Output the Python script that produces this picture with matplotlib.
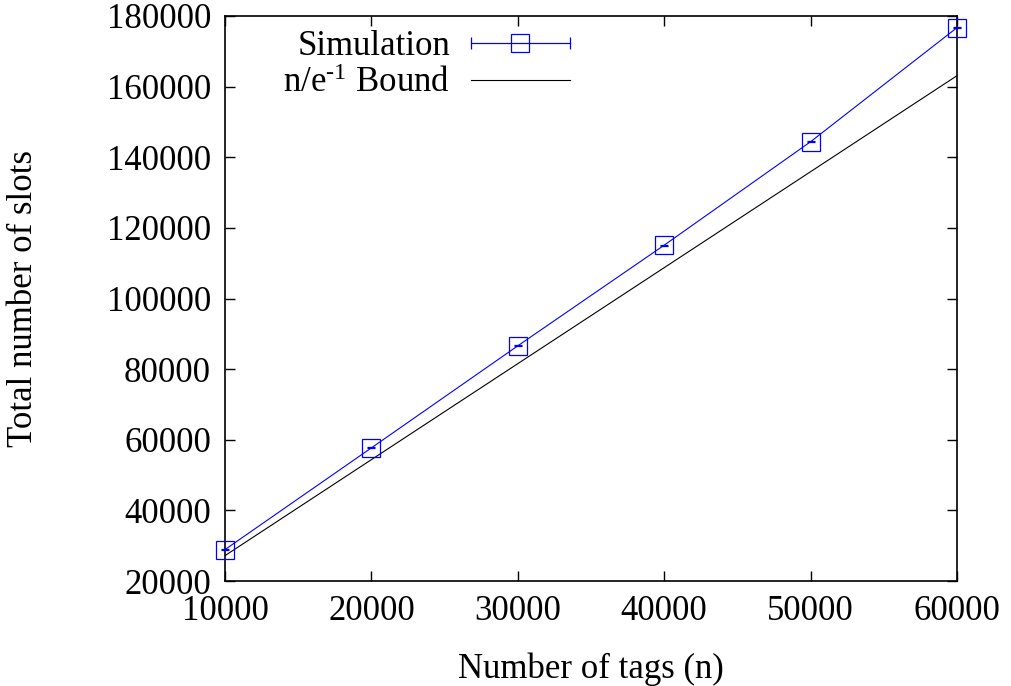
import matplotlib
matplotlib.use("Agg")
import matplotlib.pyplot as plt
import numpy as np
from matplotlib.legend_handler import HandlerErrorbar

plt.rcParams['font.family'] = ['Liberation Serif', 'DejaVu Serif']
plt.rcParams['mathtext.fontset'] = 'custom'
plt.rcParams['mathtext.rm'] = 'Liberation Serif'
plt.rcParams['mathtext.default'] = 'regular'

tags = [10000, 20000, 30000, 40000, 50000, 60000]
sim_slots = [28900, 57700, 86600, 115100, 144400, 176700]
sim_err = [150, 150, 150, 150, 150, 150]
bound_x = [10000, 60000]
bound_y = [10000 * np.e, 60000 * np.e]

fig = plt.figure(figsize=(10.11, 6.86), dpi=100)
ax = fig.add_axes([225/1011, 1-581/686, (957-225)/1011, (581-16)/686])

FS = 25
blue = '#0000ff'
ax.errorbar(tags, sim_slots, yerr=sim_err, color=blue, lw=0.8, marker='s',
            markersize=13, markerfacecolor='none', markeredgecolor=blue,
            markeredgewidth=0.9, capsize=3, elinewidth=0.8, label='_nolegend_',
            clip_on=False, zorder=3)
ax.plot(bound_x, bound_y, color='black', lw=0.8, label='_nolegend_', zorder=2)

# legend proxies (outside the visible range)
proxy_sim = ax.errorbar([-1e6], [0], xerr=[1], color=blue, lw=0.8, marker='s',
                        markersize=13, markerfacecolor='none', markeredgecolor=blue,
                        markeredgewidth=0.9, capsize=4, elinewidth=0.8)
proxy_bound, = ax.plot([], [], color='black', lw=0.8)

leg = ax.legend([proxy_sim, proxy_bound], ['Simulation', r'n/e$^{\text{-}1}$ Bound'],
                loc='upper right', bbox_to_anchor=(0.471, 0.975),
                frameon=False, markerfirst=False, fontsize=FS,
                handlelength=2.85, handletextpad=0.6, labelspacing=0.12,
                borderpad=0, borderaxespad=0, alignment='right',
                handler_map={type(proxy_sim): HandlerErrorbar(xerr_size=1.42)})

ax.set_xlim(10000, 60000)
ax.set_ylim(20000, 180000)
ax.set_xticks(tags)
ax.set_yticks(np.arange(20000, 180001, 20000))
ax.tick_params(direction='in', length=7, width=1, top=True, right=True,
               labelsize=FS, pad=10)
for s in ax.spines.values():
    s.set_linewidth(1.2)

ax.set_xlabel('Number of tags (n)', fontsize=FS, labelpad=18)
ax.set_ylabel('Total number of slots', fontsize=FS, labelpad=48)

fig.savefig('out.png', dpi=100)
